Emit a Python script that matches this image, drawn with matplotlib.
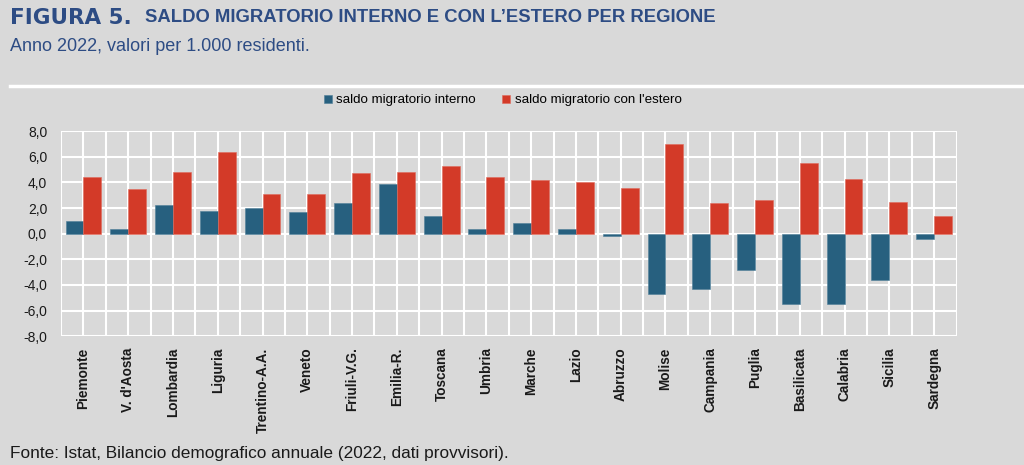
import numpy as np
import matplotlib.pyplot as plt
from matplotlib.lines import Line2D

# dati (valori per 1.000 residenti)
regioni = ["Piemonte", "V. d'Aosta", "Lombardia", "Liguria", "Trentino-A.A.",
           "Veneto", "Friuli-V.G.", "Emilia-R.", "Toscana", "Umbria",
           "Marche", "Lazio", "Abruzzo", "Molise", "Campania",
           "Puglia", "Basilicata", "Calabria", "Sicilia", "Sardegna"]
interno = [1.0, 0.4, 2.2, 1.8, 2.0, 1.7, 2.4, 3.9, 1.4, 0.4,
           0.8, 0.4, -0.2, -4.7, -4.3, -2.8, -5.5, -5.5, -3.6, -0.4]
estero = [4.4, 3.5, 4.8, 6.4, 3.1, 3.1, 4.7, 4.8, 5.3, 4.4,
          4.2, 4.0, 3.6, 7.0, 2.4, 2.6, 5.5, 4.3, 2.5, 1.4]
yticks = [-8, -6, -4, -2, 0, 2, 4, 6, 8]

bg = "#d9d9d9"
blu = "#27607f"
rosso = "#d33a28"
titolo_col = "#2d4c84"

plt.rcParams['font.family'] = ["Liberation Sans", "DejaVu Sans"]

fig = plt.figure(figsize=(10.24, 4.65), dpi=100, facecolor=bg)
ax = fig.add_axes([0.0596, 0.277, 0.8745, 0.441])
ax.set_facecolor(bg)

x = np.arange(len(regioni))
w = 0.4
ax.bar(x - w / 2, interno, w, color=blu, edgecolor="#4f7e98", linewidth=0.4,
       label="saldo migratorio interno", zorder=3)
ax.bar(x + w / 2, estero, w, color=rosso, edgecolor="#e06a5c", linewidth=0.4,
       label="saldo migratorio con l'estero", zorder=3)

ax.set_xlim(-0.5, len(regioni) - 0.5)
ax.set_ylim(-8, 8)
ax.set_yticks(yticks)
ax.set_yticklabels([f"{v:.1f}".replace(".", ",") for v in yticks], fontsize=10,
                   color="#1a1a1a")

# griglia bianca: righe orizzontali e verticali a bordi e centri delle categorie
for v in yticks:
    ax.axhline(v, color="white", lw=1.5, zorder=1)
for b in np.arange(-0.5, len(regioni), 0.5):
    ax.axvline(b, color="white", lw=1.5, zorder=1)

ax.set_xticks(x)
ax.set_xticklabels(regioni, rotation=90, fontsize=9.8, fontweight="bold", va="top",
                   color="#1a1a1a")
ax.tick_params(length=0)
ax.tick_params(axis="x", pad=8)
ax.tick_params(axis="y", pad=10)
for s in ax.spines.values():
    s.set_visible(False)

leg = fig.legend(loc="center", bbox_to_anchor=(0.491, 0.784), ncol=2, frameon=False,
                 handlelength=0.6, handleheight=0.6, handletextpad=0.35,
                 columnspacing=2.0, prop={"size": 9.6})

fig.text(0.010, 0.962, "FIGURA 5.", fontsize=15.5, fontweight="bold",
         color=titolo_col, va="center", family="DejaVu Sans")
fig.text(0.1415, 0.962, "SALDO MIGRATORIO INTERNO E CON L\u2019ESTERO PER REGIONE",
         fontsize=13.3, fontweight="bold", color=titolo_col, va="center")
fig.text(0.010, 0.901, "Anno 2022, valori per 1.000 residenti.", fontsize=13,
         color=titolo_col, va="center")
fig.add_artist(Line2D([0.010, 1.0], [0.815, 0.815], color="white", lw=2.5,
                      transform=fig.transFigure))
fig.text(0.010, 0.024, "Fonte: Istat, Bilancio demografico annuale (2022, dati provvisori).",
         fontsize=12.4, color="#1a1a1a", va="center")

fig.savefig("out.png", dpi=100, facecolor=bg)
